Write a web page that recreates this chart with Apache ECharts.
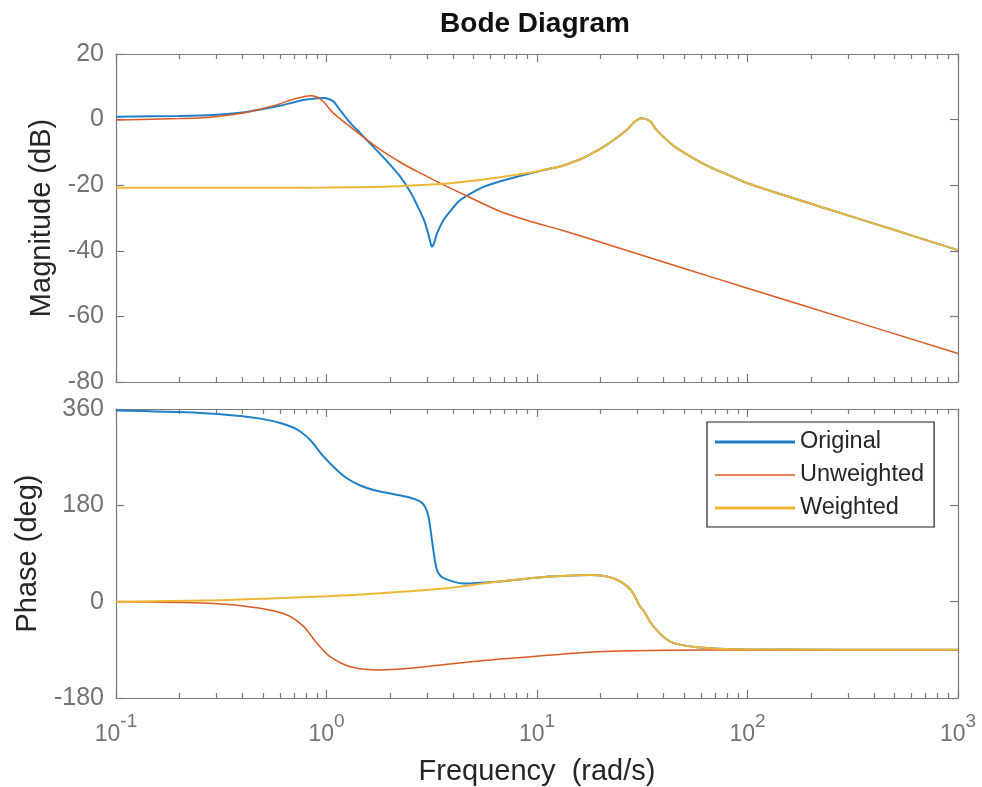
<!DOCTYPE html>
<html><head><meta charset="utf-8">
<script src="https://cdn.jsdelivr.net/npm/echarts@6/dist/echarts.min.js"></script>
<style>html,body{margin:0;padding:0;background:#fff}#c{width:982px;height:787px}</style>
</head><body><div id="c"></div>
<script>
// ---------- data ----------
const seriesNames = ['Original', 'Unweighted', 'Weighted'];
const xTickValues = [0.1, 1, 10, 100, 1000];
const magTicks = [-80, -60, -40, -20, 0, 20];
const phaseTicks = [-180, 0, 180, 360];

// Magnitude (dB)
const origMagFreq = [0.1, 0.2, 0.3, 0.4, 0.5, 0.6, 0.7, 0.8, 0.9, 0.97, 1.03, 1.08, 1.16, 1.3, 1.45, 1.67, 1.95, 2.24, 2.5, 2.69, 2.9, 3.0, 3.1, 3.17, 3.25, 3.35, 3.6, 4.0, 4.32, 5.0, 5.57, 6.7, 8.03, 10, 11.6, 12.9, 16.06, 18.5, 20.7, 23.5, 26.7, 29.2, 31.5, 34.6, 37, 44.6, 55.5, 66.4, 80, 100, 236, 495, 1000];
const origMag     = [0.9, 1.1, 1.5, 2.2, 3.2, 4.2, 5.3, 6.1, 6.5, 6.6, 6.2, 5.5, 2.9, -1.1, -4.2, -8.3, -12.9, -17.4, -22.0, -26.0, -30.5, -33.4, -36.8, -38.8, -37.5, -34.7, -30.6, -26.8, -24.5, -22.0, -20.5, -18.8, -17.4, -15.9, -14.9, -14.3, -12.1, -10.1, -8.3, -5.9, -3.2, -0.6, 0.4, -0.6, -3.2, -8.0, -11.8, -14.5, -16.7, -19.4, -27.1, -33.6, -39.8];

const unwMagFreq = [0.1, 0.2, 0.28, 0.4, 0.485, 0.6, 0.7, 0.78, 0.84, 0.9, 0.95, 1.0, 1.081, 1.298, 1.557, 1.862, 2.242, 2.69, 3.228, 3.874, 4.65, 6.69, 9.63, 12.9, 19.9, 50, 100, 300, 1000];
const unwMag     = [-0.1, 0.3, 0.7, 2.0, 3.2, 4.8, 6.3, 7.0, 7.3, 6.9, 5.9, 4.4, 1.9, -2.2, -6.2, -9.8, -13.0, -15.8, -18.4, -20.9, -23.3, -28.0, -31.3, -33.6, -37.3, -45.4, -51.4, -60.9, -71.3];

const wMagFreq = [0.1, 0.5, 1, 2, 3, 4, 5, 6.7, 8, 10, 11.6, 12.9, 16.06, 18.5, 20.7, 23.5, 26.7, 29.2, 31.5, 34.6, 37, 44.6, 55.5, 66.4, 80, 100, 236, 495, 1000];
const wMag     = [-20.8, -20.8, -20.7, -20.4, -19.9, -19.3, -18.6, -17.6, -16.8, -15.8, -14.9, -14.3, -12.1, -10.1, -8.3, -5.9, -3.2, -0.6, 0.4, -0.6, -3.2, -8.0, -11.8, -14.5, -16.7, -19.4, -27.1, -33.6, -39.8];

// Phase (deg)
const origPhFreq = [0.1, 0.2516, 0.389, 0.485, 0.603, 0.695, 0.751, 0.837, 0.965, 1.1, 1.25, 1.447, 1.674, 2.01, 2.41, 2.79, 2.94, 3.05, 3.17, 3.29, 3.39, 3.6, 4.48, 6.45, 9.3, 11.1, 17.9, 23.1, 27.9, 30.9, 31.9, 35.8, 43, 57.5, 99, 1000];
const origPh     = [357, 352.6, 347, 342, 334, 325.5, 318, 302, 272, 249, 230.6, 217, 208.7, 202, 196, 187, 177.5, 159, 115, 72, 54, 44, 34, 37.4, 43.7, 46.7, 50, 43.7, 21.9, -9.3, -15.5, -46.7, -74.7, -85, -89, -90];

const unwPhFreq = [0.1, 0.28, 0.485, 0.65, 0.78, 0.9, 1.04, 1.3, 1.8, 2.5, 3.47, 5, 6.7, 9.3, 19.3, 40, 83, 1000];
const unwPh     = [0, -3, -12.3, -24.9, -46.7, -77.7, -102.8, -121.5, -127.6, -124.4, -118.3, -112, -107, -102.8, -93.4, -91, -90.3, -90];

const wPhFreq = [0.1, 0.3, 0.58, 1.0, 1.8, 3.73, 5.0, 6.45, 9.3, 11.1, 17.9, 23.1, 27.9, 30.9, 31.9, 35.8, 43, 57.5, 99, 1000];
const wPh     = [0, 2.5, 6.4, 10, 15.7, 25, 31.5, 37.4, 43.7, 46.7, 50, 43.7, 21.9, -9.3, -15.5, -46.7, -74.7, -85, -89, -90];

// ---------- styling ----------
const FONT = 'Liberation Sans, Arial, Helvetica, sans-serif';
const TICK_TXT = '#737373';
const AXIS_CLR = '#7a7a7a';
const DARK = '#262626';
const colors = ['#1f80c8', '#db5a22', '#eeb634'];
const widths = [2, 1.5, 2];

const pairs = (f, v) => f.map((x, i) => [x, v[i]]);
const minorVals = [];
for (let k = -1; k <= 2; k++) for (let m = 2; m <= 9; m++) minorVals.push(+(m * Math.pow(10, k)).toPrecision(3));

function xAxes(gridIndex, showLabels) {
  const base = {
    type: 'log', logBase: 10, min: 0.1, max: 1000, gridIndex,
    splitLine: { show: false }, minorTick: { show: false }
  };
  const out = [];
  ['bottom', 'top'].forEach(pos => {
    out.push(Object.assign({}, base, {
      position: pos,
      axisLine: { show: true, onZero: false, lineStyle: { color: AXIS_CLR, width: 1.2 } },
      axisTick: { show: true, inside: true, length: 8, customValues: xTickValues, lineStyle: { color: AXIS_CLR, width: 1.2 } },
      axisLabel: (showLabels && pos === 'bottom') ? {
        show: true, customValues: xTickValues, margin: 14,
        formatter: v => '{b|10}{s|' + Math.round(Math.log10(v)) + '}',
        rich: {
          b: { fontFamily: FONT, fontSize: 23, color: TICK_TXT, lineHeight: 34, verticalAlign: 'bottom' },
          s: { fontFamily: FONT, fontSize: 19, color: TICK_TXT, lineHeight: 34, verticalAlign: 'top' }
        }
      } : { show: false }
    }));
    out.push(Object.assign({}, base, {
      position: pos,
      axisLine: { show: false, onZero: false },
      axisTick: { show: true, inside: true, length: 5, customValues: minorVals, lineStyle: { color: AXIS_CLR, width: 1.2 } },
      axisLabel: { show: false }
    }));
  });
  return out;
}

function yAxes(gridIndex, min, max, interval, name, nameGap) {
  const base = { type: 'value', gridIndex, min, max, interval, splitLine: { show: false } };
  return [
    Object.assign({}, base, {
      position: 'left',
      name, nameLocation: 'middle', nameGap,
      nameTextStyle: { fontFamily: FONT, fontSize: 29, color: DARK },
      axisLine: { show: true, onZero: false, lineStyle: { color: AXIS_CLR, width: 1.2 } },
      axisTick: { show: true, inside: true, length: 8, lineStyle: { color: AXIS_CLR, width: 1.2 } },
      axisLabel: { show: true, margin: 12, fontFamily: FONT, fontSize: 25, color: TICK_TXT }
    }),
    Object.assign({}, base, {
      position: 'right',
      axisLine: { show: true, onZero: false, lineStyle: { color: AXIS_CLR, width: 1.2 } },
      axisTick: { show: true, inside: true, length: 8, lineStyle: { color: AXIS_CLR, width: 1.2 } },
      axisLabel: { show: false }
    })
  ];
}

const xa = xAxes(0, false).concat(xAxes(1, true));
Object.assign(xa[4], {
  name: 'Frequency  (rad/s)', nameLocation: 'middle', nameGap: 59,
  nameTextStyle: { fontFamily: FONT, fontSize: 29, color: DARK }
});
const ya = yAxes(0, -80, 20, 20, 'Magnitude (dB)', 60).concat(yAxes(1, -180, 360, 180, 'Phase (deg)', 74));

const magSets = [pairs(origMagFreq, origMag), pairs(unwMagFreq, unwMag), pairs(wMagFreq, wMag)];
const phSets = [pairs(origPhFreq, origPh), pairs(unwPhFreq, unwPh), pairs(wPhFreq, wPh)];

const series = [];
for (let i = 0; i < 3; i++) {
  series.push({
    name: seriesNames[i], type: 'line', xAxisIndex: 0, yAxisIndex: 0,
    data: magSets[i], symbol: 'none', smooth: 0.3, z: 2 + i,
    lineStyle: { color: colors[i], width: widths[i] }, itemStyle: { color: colors[i] }
  });
}
for (let i = 0; i < 3; i++) {
  series.push({
    name: seriesNames[i], type: 'line', xAxisIndex: 4, yAxisIndex: 2,
    data: phSets[i], symbol: 'none', smooth: 0.3, z: 2 + i,
    lineStyle: { color: colors[i], width: widths[i] }, itemStyle: { color: colors[i] }
  });
}

const chart = echarts.init(document.getElementById('c'), null, { renderer: 'canvas' });
chart.setOption({
  backgroundColor: '#ffffff',
  animation: false,
  color: colors,
  title: {
    text: 'Bode Diagram', left: 530, textAlign: 'center', top: 5,
    textStyle: { fontFamily: FONT, fontSize: 28, fontWeight: 'bold', color: '#111' }
  },
  grid: [
    { left: 116, top: 54, width: 842, height: 328, containLabel: false },
    { left: 116, top: 409, width: 842, height: 289, containLabel: false }
  ],
  xAxis: xa,
  yAxis: ya,
  legend: {
    data: [
      { name: 'Original', icon: 'path://M0 0H80V3H0Z' },
      { name: 'Unweighted', icon: 'path://M0 0H160V3H0Z' },
      { name: 'Weighted', icon: 'path://M0 0H80V3H0Z' }
    ],
    symbolKeepAspect: true,
    orient: 'vertical', left: 707, top: 422,
    itemWidth: 80, itemHeight: 14, itemGap: 9,
    padding: [8, 10, 7, 8],
    backgroundColor: '#fff', borderColor: '#222', borderWidth: 1.2, borderRadius: 0,
    textStyle: { fontFamily: FONT, fontSize: 23.5, color: DARK, lineHeight: 24 },
    selectedMode: false
  },
  series
});
</script>
</body></html>
